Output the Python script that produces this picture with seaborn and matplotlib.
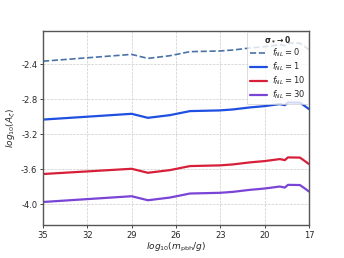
import numpy as np
import pandas as pd
import matplotlib
matplotlib.use("Agg")
import matplotlib.pyplot as plt
import seaborn as sns

log_m = [35.0, 29.0, 27.9, 26.4, 25.05, 23.02, 22.14, 21.0, 20.0, 18.97, 18.63, 18.42, 17.61, 17.27, 17.0]
f0 = [-2.366, -2.288, -2.334, -2.303, -2.257, -2.249, -2.238, -2.215, -2.200, -2.177, -2.189, -2.158, -2.160, -2.200, -2.234]
f1 = [-3.034, -2.968, -3.014, -2.983, -2.937, -2.929, -2.918, -2.895, -2.880, -2.857, -2.869, -2.838, -2.840, -2.880, -2.914]
f10 = [-3.657, -3.597, -3.643, -3.612, -3.566, -3.558, -3.547, -3.524, -3.509, -3.486, -3.498, -3.467, -3.469, -3.509, -3.543]
f30 = [-3.977, -3.911, -3.957, -3.926, -3.880, -3.872, -3.861, -3.838, -3.823, -3.800, -3.812, -3.781, -3.783, -3.823, -3.857]
labels = [r"$f_{NL}=0$", r"$f_{NL}=1$", r"$f_{NL}=10$", r"$f_{NL}=30$"]
xticks = [35, 32, 29, 26, 23, 20, 17]
yticks = [-2.4, -2.8, -3.2, -3.6, -4.0]

sns.set_style("whitegrid", {"grid.linestyle": "--", "grid.color": "#d0d0d0",
                            "axes.edgecolor": "#555555"})
plt.rcParams["axes.unicode_minus"] = False
plt.rcParams["font.family"] = ["DejaVu Sans"]

fig, ax = plt.subplots(figsize=(3.44, 2.58), dpi=100)
fig.subplots_adjust(left=0.125, right=0.898, top=0.88, bottom=0.128)

series = [f0, f1, f10, f30]
colors = ["#4a72a8", "#1f4fe0", "#d71f3a", "#7a44d6"]
styles = ["--", "-", "-", "-"]
for vals, lab, c, ls in zip(series, labels, colors, styles):
    df = pd.DataFrame({"x": log_m, "y": vals})
    sns.lineplot(data=df, x="x", y="y", ax=ax, color=c, linestyle=ls,
                 linewidth=1.6 if ls == "-" else 1.2, label=lab, sort=False)

ax.set_xlim(35, 17)
ax.set_ylim(-4.24, -2.02)
ax.set_xticks(xticks)
ax.set_xticklabels([str(t) for t in xticks])
ax.set_yticks(yticks)
ax.set_yticklabels([f"{t:.1f}" for t in yticks])
ax.tick_params(axis="both", labelsize=6, length=2.5, width=0.6, pad=1.5, left=True, bottom=True)
for s in ax.spines.values():
    s.set_linewidth(1.0)
    s.set_color("#555555")
ax.grid(True, linestyle="--", linewidth=0.5, color="#cccccc")
ax.set_xlabel(r"$log_{10}(m_{\rm pbh}/g)$", fontsize=6.5, labelpad=1)
ax.set_ylabel(r"$log_{10}(A_\zeta)$", fontsize=6.5, labelpad=2)

leg = ax.legend(title=r"$\mathbf{\sigma_* \rightarrow 0}$", loc="upper right",
                fontsize=6, title_fontsize=5.5, frameon=True, fancybox=False,
                borderaxespad=0.15, handlelength=2.1, labelspacing=0.18,
                borderpad=0.35, handletextpad=0.5)
leg.get_frame().set_edgecolor("#cccccc")
leg.get_frame().set_linewidth(0.6)

fig.savefig("out.png", dpi=100)
